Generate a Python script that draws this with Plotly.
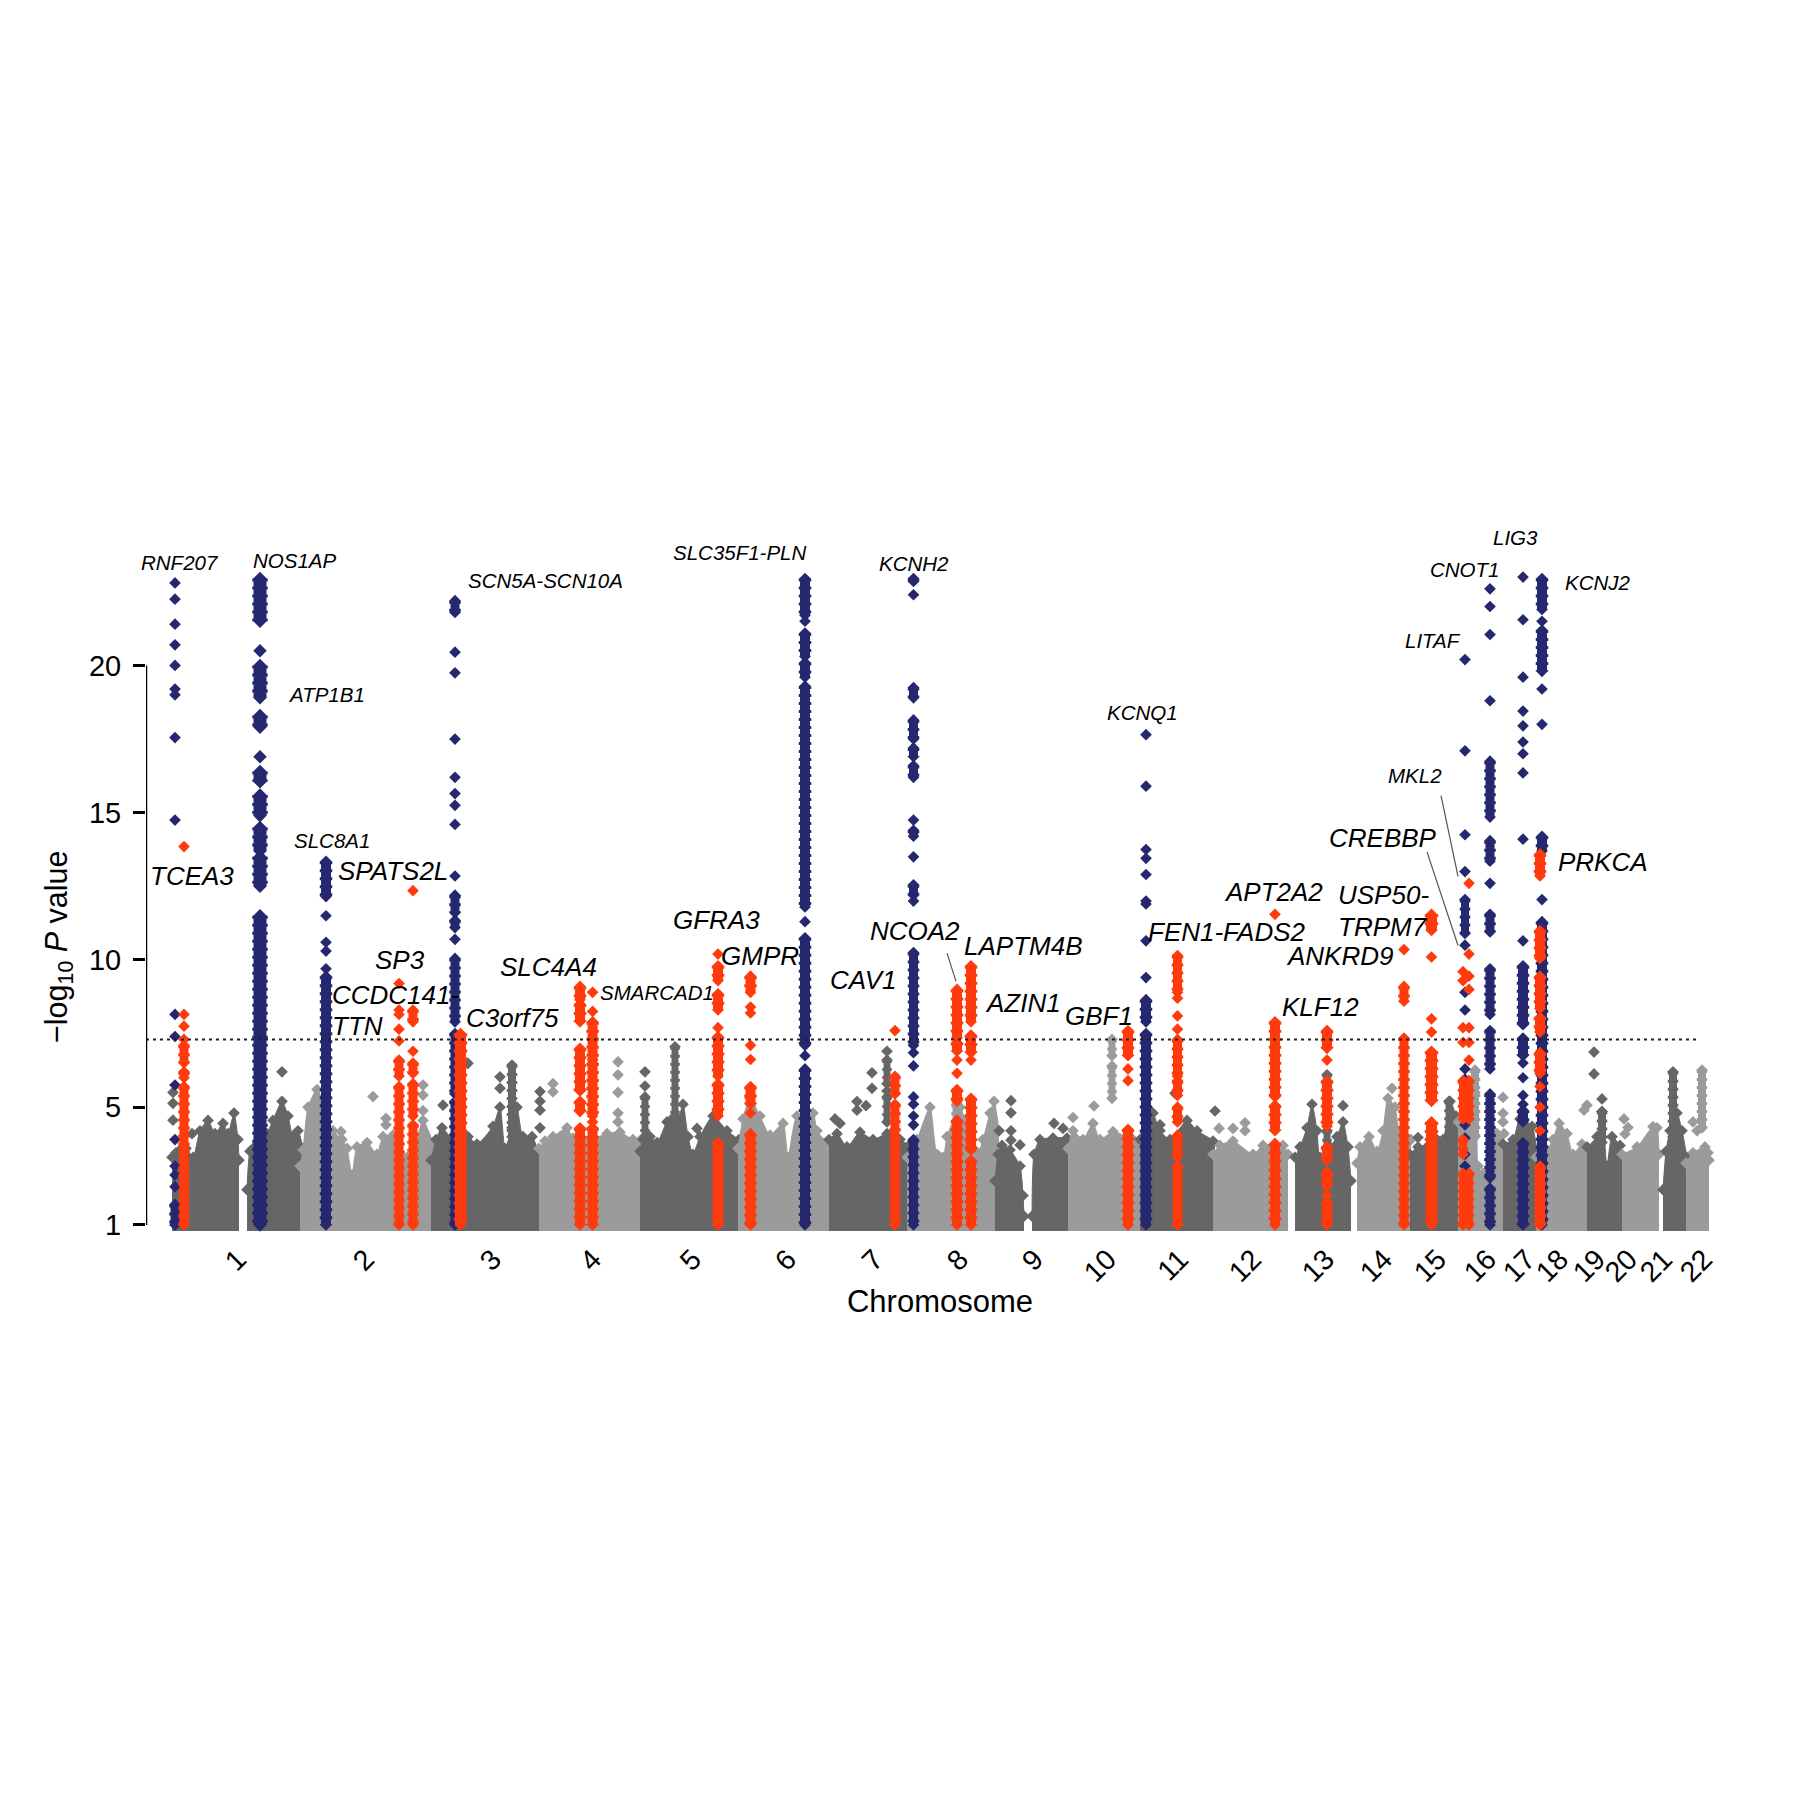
import plotly.graph_objects as go

# ---------- genome background: skyline of each chromosome (position, -log10 P) ----------
chr1a_pos = [172,176,180,186,193,200,208,215,223,228,234,238,239]
chr1a_top = [3.3,3.45,3.55,3.6,3.3,4.2,4.55,4.1,4.45,4.1,4.8,3.9,3.2]
chr1b_pos = [247,250,253,256,262,267,273,282,288,293,298,303]
chr1b_top = [2.2,3.5,3.6,3.6,3.8,4.1,4.55,5.2,4.7,4.0,4.2,3.6]
chr2_pos = [300,303,308,317,323,333,342,347,352,357,367,377,383,393,407,415,423,433]
chr2_top = [3.0,3.55,5.0,5.6,5.2,4.2,3.9,3.6,2.7,3.65,3.8,3.4,4.0,4.05,3.3,3.7,4.55,3.8]
chr3_pos = [431,436,442,453,468,477,493,500,505,512,517,523,532,540]
chr3_top = [3.2,3.9,4.3,3.9,4.0,3.75,4.35,5.0,3.6,4.3,5.0,4.0,4.0,3.3]
chr4_pos = [539,545,553,567,573,590,607,620,633,641]
chr4_top = [3.6,3.85,4.0,4.3,3.95,3.9,4.1,4.15,3.9,3.9]
chr5_pos = [640,643,650,657,667,672,678,683,688,693,700,713,727,739]
chr5_top = [3.5,3.9,4.0,3.8,4.5,4.6,4.6,5.1,4.0,3.4,4.0,4.7,4.2,3.9]
chr6_pos = [738,743,750,760,770,783,788,797,813,817,830]
chr6_top = [3.6,4.6,5.3,4.7,4.05,4.45,3.3,4.7,4.8,4.2,3.7]
chr7_pos = [829,837,847,860,873,887,900,909]
chr7_top = [3.9,4.1,3.65,4.15,3.9,4.1,3.9,3.7]
chr8_pos = [907,917,930,937,943,947,960,965,978,983,990,994,999]
chr8_top = [3.3,3.9,5.0,3.4,3.3,4.0,5.0,4.55,3.45,3.9,4.8,5.2,4.2]
chr9a_pos = [995,998,1002,1010,1020,1023,1024]
chr9a_top = [2.5,3.4,3.7,3.55,3.0,2.0,1.3]
chr9b_pos = [1032,1034,1040,1053,1067,1069]
chr9b_top = [1.3,3.4,3.9,3.95,3.95,3.3]
chr10_pos = [1068,1073,1083,1093,1100,1113,1133,1141]
chr10_top = [3.6,4.2,3.9,4.45,3.9,4.17,3.9,3.9]
chr11_pos = [1140,1147,1153,1160,1170,1187,1197,1213,1215]
chr11_top = [3.9,5.0,4.8,4.2,3.9,4.55,4.2,3.85,3.3]
chr12_pos = [1213,1220,1233,1253,1263,1283,1288]
chr12_top = [3.4,3.7,3.85,3.4,3.7,3.7,3.4]
chr13_pos = [1295,1300,1307,1312,1317,1320,1330,1337,1343,1348,1351]
chr13_top = [3.3,3.65,4.3,5.1,4.2,3.3,3.65,4.0,4.5,3.65,2.5]
chr14_pos = [1357,1360,1369,1377,1383,1388,1395,1400,1411]
chr14_top = [3.1,3.65,4.0,3.5,4.2,5.3,5.0,4.1,3.9]
chr15_pos = [1410,1418,1427,1437,1443,1450,1456,1459]
chr15_top = [3.4,3.65,3.65,3.9,3.9,5.2,4.7,3.5]
chr16_pos = [1458,1466,1475,1478,1483,1490,1497,1504]
chr16_top = [4.5,5.6,5.5,3.0,2.75,3.2,4.1,4.1]
chr17_pos = [1503,1513,1520,1532,1537]
chr17_top = [3.75,3.9,4.6,4.35,3.5]
chr18_pos = [1536,1547,1553,1559,1567,1573,1582,1588]
chr18_top = [3.3,3.55,3.9,4.45,4.1,3.4,3.75,3.4]
chr19_pos = [1587,1597,1602,1607,1612,1620,1623]
chr19_top = [3.65,4.0,4.85,3.0,4.0,3.7,3.3]
chr20_pos = [1622,1637,1653,1657,1659]
chr20_top = [3.4,3.65,4.34,4.3,3.4]
chr21_pos = [1663,1666,1670,1677,1682,1687]
chr21_top = [2.2,3.5,4.2,4.8,4.2,3.3]
chr22_pos = [1686,1693,1705,1708,1709]
chr22_top = [3.1,3.45,3.65,3.45,3.2]

# ---------- isolated background SNPs ----------
dark_pos = [173,173,173,192,282,468,443,500,500,540,540,540,540,645,645,697,872,872,857,857,866,840,835,1011,1011,999,1011,1011,1020,1054,1063,1175,1160,1215,1343,1418,1594,1594,1602,1465]
dark_val = [5.5,5.13,4.56,4.1,6.2,6.49,5.07,6.03,5.64,5.53,5.2,4.9,4.3,6.2,5.72,4.28,6.17,5.64,5.19,4.9,5.05,4.45,4.6,5.22,4.81,4.2,4.2,3.88,3.72,4.45,4.28,5.47,4.4,4.87,5.05,3.97,6.87,6.13,5.28,5.3]
light_pos = [373,423,423,423,386,386,341,553,553,618,618,618,618,618,1073,1094,1219,1233,1245,1245,1392,1503,1503,1503,1587,1584,1624,1628,1625,1693,1697]
light_val = [5.36,5.75,5.41,4.88,4.62,4.4,4.17,5.8,5.52,6.54,6.1,5.5,4.8,4.5,4.65,5.04,4.28,4.28,4.47,4.2,5.64,5.33,4.79,4.5,5.07,4.9,4.6,4.31,4.09,4.5,4.2]

# ---------- loci: position, continuous runs (high, low), separate hits ----------
CHR5_PEAK_POS = 675;  CHR5_PEAK_RUNS = [(7.05,4.0)];  CHR5_PEAK_HITS = []
CHR3_PEAK_POS = 512;  CHR3_PEAK_RUNS = [(6.43,4.0)];  CHR3_PEAK_HITS = []
CHR5B_POS = 645;      CHR5B_RUNS = [(5.35,4.0)];      CHR5B_HITS = []
CHR7_PEAK_POS = 887;  CHR7_PEAK_RUNS = [(6.6,5.8),(5.35,4.5)];  CHR7_PEAK_HITS = [6.9,5.55]
CHR15_PEAK_POS = 1449; CHR15_PEAK_RUNS = [(5.2,4.0)]; CHR15_PEAK_HITS = []
CHR21_PEAK_POS = 1673; CHR21_PEAK_RUNS = [(6.2,4.0)]; CHR21_PEAK_HITS = []
CHR19_PEAK_POS = 1602; CHR19_PEAK_RUNS = [(4.85,3.8)]; CHR19_PEAK_HITS = []
CHR13_GREY_POS = 1327; CHR13_GREY_RUNS = [(6.1,5.6),(4.2,3.6)]; CHR13_GREY_HITS = []

GBF1_GREY_POS = 1112; GBF1_GREY_RUNS = [(7.3,6.75),(6.4,5.3)]; GBF1_GREY_HITS = []
CHR16_PEAK_POS = 1475; CHR16_PEAK_RUNS = [(6.26,4.0)]; CHR16_PEAK_HITS = []
CHR22_PEAK_POS = 1702; CHR22_PEAK_RUNS = [(6.26,4.3)]; CHR22_PEAK_HITS = []
NCOA2_GREY_POS = 957; NCOA2_GREY_RUNS = [(5.1,4.5)]; NCOA2_GREY_HITS = []

RNF207_POS = 175; RNF207_RUNS = [(1.7,1.0)]
RNF207_HITS = [22.8,22.25,21.4,20.7,20.0,19.2,19.0,17.55,14.75,8.15,7.4,5.75,3.9,3.0,2.7,2.3]
NOS1AP_POS = 260; NOS1AP_RUNS = [(22.95,21.5),(20.0,18.9),(18.3,17.9),(16.4,16.05),(15.6,14.9),(14.5,13.7),(13.5,12.5),(11.5,1.0)]
NOS1AP_HITS = [20.5,16.9]
SLC8A1_POS = 326; SLC8A1_RUNS = [(13.35,12.15),(9.45,1.0)]
SLC8A1_HITS = [11.5,10.6,10.3,9.7]
SCN5A_POS = 455; SCN5A_RUNS = [(22.2,21.8),(12.2,11.6),(11.35,11.1),(10.05,7.9),(7.5,5.45),(5.2,1.0)]
SCN5A_HITS = [20.45,19.75,17.5,16.2,15.65,15.25,14.6,12.85,10.7]
PLN_POS = 805; PLN_RUNS = [(22.95,21.7),(21.1,20.3),(20.1,19.6),(19.3,11.8),(10.75,7.1),(6.3,1.0)]
PLN_HITS = [21.5,11.3,6.75]
KCNH2_POS = 913.5; KCNH2_RUNS = [(22.95,22.85),(19.25,18.9),(18.15,17.5),(17.2,16.9),(16.6,16.2),(14.4,14.2),(12.55,12.2),(10.25,7.1),(3.9,1.0)]
KCNH2_HITS = [22.4,14.75,13.5,12.0,6.85,6.4,5.35,5.1,4.7,4.4]
KCNQ1_POS = 1146; KCNQ1_RUNS = [(8.65,7.9),(7.5,1.0)]
KCNQ1_HITS = [17.65,15.9,13.75,13.45,12.9,12.0,11.9,10.65,9.4]
LITAF_POS = 1465; LITAF_RUNS = [(12.05,10.9)]
LITAF_HITS = [20.2,17.1,14.25,13.0,10.5,8.9,8.3,6.3,5.95,4.7,4.4,3.95,3.4,3.0]
CNOT1_POS = 1490; CNOT1_RUNS = [(16.75,14.85),(14.05,13.35),(11.55,10.95),(9.7,8.15),(7.6,6.3),(5.45,2.6),(2.25,1.0)]
CNOT1_HITS = [22.6,22.0,21.05,18.8,12.6]
LIG3_POS = 1523; LIG3_RUNS = [(9.8,7.8),(7.35,6.75),(4.9,4.5),(3.8,1.0)]
LIG3_HITS = [23.0,21.55,19.6,18.45,17.95,17.4,17.0,16.35,14.1,10.65,6.5,6.0,5.4,5.1]
KCNJ2_POS = 1542; KCNJ2_RUNS = [(22.95,21.9),(21.2,19.8),(14.2,13.7),(11.3,1.0)]
KCNJ2_HITS = [21.5,19.2,18.0,12.05]

TCEA3_POS = 184; TCEA3_RUNS = [(7.1,6.5),(6.2,6.0),(5.7,1.0)]
TCEA3_HITS = [13.85,8.15,7.75,7.3]
SP3_POS = 399; SP3_RUNS = [(6.6,6.05),(5.7,1.0)]
SP3_HITS = [9.2,8.3,8.15,7.65,7.25]
SPATS2L_POS = 413; SPATS2L_RUNS = [(8.3,7.9),(6.5,6.15),(5.8,4.7),(4.4,1.0)]
SPATS2L_HITS = [12.35,6.9]
C3ORF75_POS = 460.5; C3ORF75_RUNS = [(7.5,1.0)]; C3ORF75_HITS = []
SLC4A4_POS = 580; SLC4A4_RUNS = [(9.1,8.65),(8.5,7.9),(7.0,5.55),(5.2,4.85),(4.3,1.0)]; SLC4A4_HITS = []
SMARCAD1_POS = 592.6; SMARCAD1_RUNS = [(7.9,6.6),(6.5,4.7),(4.3,1.0)]; SMARCAD1_HITS = [8.9,8.25,4.5]
GFRA3_POS = 718; GFRA3_RUNS = [(9.8,9.3),(8.85,8.3),(7.4,6.05),(5.8,4.7),(3.8,1.0)]; GFRA3_HITS = [10.2,7.7]
GMPR_POS = 750.5; GMPR_RUNS = [(9.45,8.9),(5.7,5.1),(4.1,1.0)]; GMPR_HITS = [8.4,8.2,7.1,6.62,4.8]
CAV1_POS = 895; CAV1_RUNS = [(6.05,5.45),(5.1,1.0)]; CAV1_HITS = [7.6]
NCOA2_POS = 957; NCOA2_RUNS = [(9.0,7.35),(7.2,6.9),(5.6,5.2),(4.56,1.0)]; NCOA2_HITS = [6.6,6.15]
LAPTM4B_POS = 971; LAPTM4B_RUNS = [(9.8,7.9),(7.45,6.85),(5.3,3.55),(3.2,1.0)]; LAPTM4B_HITS = [6.6]
GBF1_POS = 1128; GBF1_RUNS = [(7.6,6.75),(4.25,1.0)]; GBF1_HITS = [6.3,5.9]
FEN1_POS = 1177.5; FEN1_RUNS = [(10.15,8.9),(7.3,6.05),(5.9,5.4),(5.0,4.5),(4.05,3.3),(3.0,1.0)]; FEN1_HITS = [8.7,8.1,7.65]
KLF12_POS = 1275; KLF12_RUNS = [(7.9,5.35),(5.07,4.2),(3.77,3.0),(2.9,1.0)]; KLF12_HITS = [11.55]
CHR13_POS = 1327; CHR13_RUNS = [(7.6,7.0),(5.9,4.35),(3.66,3.2),(2.8,2.3),(1.75,1.0)]; CHR13_HITS = [6.6,2.0]
ANKRD9_POS = 1404; ANKRD9_RUNS = [(9.1,8.6),(7.35,1.0)]; ANKRD9_HITS = [10.35]
TRPM7_POS = 1431.5; TRPM7_RUNS = [(11.55,11.0),(6.9,5.2),(4.5,1.0)]; TRPM7_HITS = [10.1,8.0,7.55]
CREBBP_POS = 1463; CREBBP_RUNS = [(5.9,4.6),(3.9,3.4),(2.75,1.0)]; CREBBP_HITS = [9.6,9.3,7.7,7.2]
MKL2_POS = 1469; MKL2_RUNS = [(5.9,4.6),(2.75,1.0)]; MKL2_HITS = [12.6,10.2,9.45,9.0,7.7,7.2,6.6]
PRKCA_POS = 1540; PRKCA_RUNS = [(13.6,12.85),(11.0,10.05),(9.45,8.35),(8.05,7.55),(6.85,6.15),(3.0,1.0)]; PRKCA_HITS = [5.7,5.0,4.2]

# ---------- axis and label text ----------
chrom_labels = [str(i) for i in range(1, 23)]
chrom_label_pos = [238,366,493,593,693,788,875,960,1035,1108,1180,1253,1326,1384,1438,1488,1527,1560,1597,1629,1664,1704]
y_ticks = [1, 5, 10, 15, 20]
GENOME_WIDE = 7.3
threshold_pos = [146, 1699]
axis_span = [1, 20]

# gene labels: name, centre position, -log10 P position
small_genes = ["RNF207","NOS1AP","ATP1B1","SCN5A-SCN10A","SLC35F1-PLN","KCNH2","KCNQ1","LIG3","CNOT1","LITAF","KCNJ2","MKL2","SLC8A1","SMARCAD1"]
small_pos = [180,294,326,545,740,914,1142,1515,1464,1433,1598,1415,332,657]
small_val = [23.5,23.57,19.0,22.9,23.85,23.46,18.4,24.35,23.26,20.84,22.83,16.25,14.06,8.91]
big_genes = ["TCEA3","SPATS2L","SP3","C3orf75","SLC4A4","GFRA3","GMPR","CAV1","NCOA2","LAPTM4B","AZIN1","GBF1","FEN1-FADS2","APT2A2","USP50-","TRPM7","ANKRD9","KLF12","CREBBP","PRKCA"]
big_pos = [192,393,399.5,512,548,716,760,863,915,1023,1023,1099,1227,1273,1383,1383,1339,1320,1383,1603]
big_val = [12.86,13.02,10.0,8.02,9.77,11.37,10.13,9.31,10.98,10.47,8.53,8.1,10.95,12.3,12.19,11.13,10.13,8.41,14.14,13.33]
ttn_pos = 330
ttn_text = ["CCDC141-", "TTN"]
ttn_val = [8.8, 7.75]

leader_ncoa2_pos = [947, 956];   leader_ncoa2_val = [10.23, 9.27]
leader_mkl2_pos = [1441, 1458];  leader_mkl2_val = [15.58, 12.84]
leader_crebbp_pos = [1427, 1458]; leader_crebbp_val = [13.67, 10.49]

# ---------- styles ----------
DARK, LIGHT, NAVY, RED = "#666666", "#9b9b9b", "#26286f", "#ff3b0e"
FONT = "Liberation Sans"
X_RANGE = [146, 1734]
Y_RANGE = [0.796, 23.24]

skylines = [
    (chr1a_pos,chr1a_top,DARK),(chr1b_pos,chr1b_top,DARK),(chr2_pos,chr2_top,LIGHT),
    (chr3_pos,chr3_top,DARK),(chr4_pos,chr4_top,LIGHT),(chr5_pos,chr5_top,DARK),
    (chr6_pos,chr6_top,LIGHT),(chr7_pos,chr7_top,DARK),(chr8_pos,chr8_top,LIGHT),
    (chr9a_pos,chr9a_top,DARK),(chr9b_pos,chr9b_top,DARK),(chr10_pos,chr10_top,LIGHT),
    (chr11_pos,chr11_top,DARK),(chr12_pos,chr12_top,LIGHT),(chr13_pos,chr13_top,DARK),
    (chr14_pos,chr14_top,LIGHT),(chr15_pos,chr15_top,DARK),(chr16_pos,chr16_top,LIGHT),
    (chr17_pos,chr17_top,DARK),(chr18_pos,chr18_top,LIGHT),(chr19_pos,chr19_top,DARK),
    (chr20_pos,chr20_top,LIGHT),(chr21_pos,chr21_top,DARK),(chr22_pos,chr22_top,LIGHT),
]
loci = [
    (CHR5_PEAK_POS,CHR5_PEAK_RUNS,CHR5_PEAK_HITS,DARK,7),(CHR3_PEAK_POS,CHR3_PEAK_RUNS,CHR3_PEAK_HITS,DARK,8),
    (CHR5B_POS,CHR5B_RUNS,CHR5B_HITS,DARK,7),(CHR7_PEAK_POS,CHR7_PEAK_RUNS,CHR7_PEAK_HITS,DARK,7),
    (CHR15_PEAK_POS,CHR15_PEAK_RUNS,CHR15_PEAK_HITS,DARK,7),(CHR21_PEAK_POS,CHR21_PEAK_RUNS,CHR21_PEAK_HITS,DARK,8),
    (CHR19_PEAK_POS,CHR19_PEAK_RUNS,CHR19_PEAK_HITS,DARK,8),(CHR13_GREY_POS,CHR13_GREY_RUNS,CHR13_GREY_HITS,DARK,7),
    (GBF1_GREY_POS,GBF1_GREY_RUNS,GBF1_GREY_HITS,LIGHT,7),(CHR16_PEAK_POS,CHR16_PEAK_RUNS,CHR16_PEAK_HITS,LIGHT,8),
    (CHR22_PEAK_POS,CHR22_PEAK_RUNS,CHR22_PEAK_HITS,LIGHT,8),(NCOA2_GREY_POS,NCOA2_GREY_RUNS,NCOA2_GREY_HITS,LIGHT,9),
    (RNF207_POS,RNF207_RUNS,RNF207_HITS,NAVY,9),(NOS1AP_POS,NOS1AP_RUNS,NOS1AP_HITS,NAVY,13),
    (SLC8A1_POS,SLC8A1_RUNS,SLC8A1_HITS,NAVY,10),(SCN5A_POS,SCN5A_RUNS,SCN5A_HITS,NAVY,9),
    (PLN_POS,PLN_RUNS,PLN_HITS,NAVY,10),(KCNH2_POS,KCNH2_RUNS,KCNH2_HITS,NAVY,9),
    (KCNQ1_POS,KCNQ1_RUNS,KCNQ1_HITS,NAVY,10),(LITAF_POS,LITAF_RUNS,LITAF_HITS,NAVY,8),
    (CNOT1_POS,CNOT1_RUNS,CNOT1_HITS,NAVY,9),(LIG3_POS,LIG3_RUNS,LIG3_HITS,NAVY,10),
    (KCNJ2_POS,KCNJ2_RUNS,KCNJ2_HITS,NAVY,10),
    (TCEA3_POS,TCEA3_RUNS,TCEA3_HITS,RED,9),(SP3_POS,SP3_RUNS,SP3_HITS,RED,9),
    (SPATS2L_POS,SPATS2L_RUNS,SPATS2L_HITS,RED,9),(C3ORF75_POS,C3ORF75_RUNS,C3ORF75_HITS,RED,11),
    (SLC4A4_POS,SLC4A4_RUNS,SLC4A4_HITS,RED,10),(SMARCAD1_POS,SMARCAD1_RUNS,SMARCAD1_HITS,RED,10),
    (GFRA3_POS,GFRA3_RUNS,GFRA3_HITS,RED,10),(GMPR_POS,GMPR_RUNS,GMPR_HITS,RED,10),
    (CAV1_POS,CAV1_RUNS,CAV1_HITS,RED,9),(NCOA2_POS,NCOA2_RUNS,NCOA2_HITS,RED,10),
    (LAPTM4B_POS,LAPTM4B_RUNS,LAPTM4B_HITS,RED,10),(GBF1_POS,GBF1_RUNS,GBF1_HITS,RED,10),
    (FEN1_POS,FEN1_RUNS,FEN1_HITS,RED,9),(KLF12_POS,KLF12_RUNS,KLF12_HITS,RED,10),
    (CHR13_POS,CHR13_RUNS,CHR13_HITS,RED,10),(ANKRD9_POS,ANKRD9_RUNS,ANKRD9_HITS,RED,9),
    (TRPM7_POS,TRPM7_RUNS,TRPM7_HITS,RED,11),(CREBBP_POS,CREBBP_RUNS,CREBBP_HITS,RED,8),
    (MKL2_POS,MKL2_RUNS,MKL2_HITS,RED,8),(PRKCA_POS,PRKCA_RUNS,PRKCA_HITS,RED,10),
]

fig = go.Figure()
MARK = 9

for pos, top, col in skylines:
    fig.add_trace(go.Scatter(x=pos, y=top, mode="lines+markers", fill="tozeroy", fillcolor=col,
                             line=dict(color=col, width=1, shape="spline", smoothing=0.6),
                             marker=dict(symbol="diamond", size=MARK, color=col),
                             hoverinfo="skip", showlegend=False))
for pos, val, col in [(dark_pos, dark_val, DARK), (light_pos, light_val, LIGHT)]:
    fig.add_trace(go.Scatter(x=pos, y=val, mode="markers", marker=dict(symbol="diamond", size=MARK, color=col),
                             hoverinfo="skip", showlegend=False))
for pos, runs, hits, col, w in loci:
    xs, ys = [], []
    for hi, lo in runs:
        xs += [pos, pos, None]; ys += [hi, lo, None]
    for h in hits:
        xs += [pos, None]; ys += [h, None]
    fig.add_trace(go.Scatter(x=xs, y=ys, mode="lines+markers", cliponaxis=False, connectgaps=False,
                             line=dict(color=col, width=w), marker=dict(symbol="diamond", size=max(MARK, w*0.8), color=col),
                             hoverinfo="skip", showlegend=False))
    # toothed edge of a tight stack of diamonds
    fig.add_trace(go.Scatter(x=xs, y=ys, mode="lines", cliponaxis=False, connectgaps=False,
                             line=dict(color=col, width=w + 2.5, dash="3px,5px"),
                             hoverinfo="skip", showlegend=False))
for px_, py_ in [(leader_ncoa2_pos, leader_ncoa2_val), (leader_mkl2_pos, leader_mkl2_val), (leader_crebbp_pos, leader_crebbp_val)]:
    fig.add_trace(go.Scatter(x=px_, y=py_, mode="lines", line=dict(color="#555555", width=1.2),
                             hoverinfo="skip", showlegend=False))
fig.add_trace(go.Scatter(x=threshold_pos, y=[GENOME_WIDE]*2, mode="lines", cliponaxis=False,
                         line=dict(color="#222222", width=2, dash="3px,4px"), hoverinfo="skip", showlegend=False))
fig.add_trace(go.Scatter(x=[146, 146], y=axis_span, mode="lines", cliponaxis=False,
                         line=dict(color="black", width=2.5), hoverinfo="skip", showlegend=False))

def px(x):
    return (x - X_RANGE[0]) / (X_RANGE[1] - X_RANGE[0])
def py(v):
    return (v - Y_RANGE[0]) / (Y_RANGE[1] - Y_RANGE[0])

ann = []
def label(text, x, v, size, xanchor="center", **kw):
    ann.append(dict(x=px(x), y=py(v), xref="paper", yref="paper", text=text, showarrow=False,
                    xanchor=xanchor, yanchor="middle",
                    font=dict(size=size, family=FONT, color="black"), **kw))
for t, x, v in zip(small_genes, small_pos, small_val):
    label(f"<i>{t}</i>", x, v, 20.5)
for t, x, v in zip(big_genes, big_pos, big_val):
    label(f"<i>{t}</i>", x, v, 26)
for t, v in zip(ttn_text, ttn_val):
    label(f"<i>{t}</i>", ttn_pos, v, 26, xanchor="left")
label("\u2212log<sub>10</sub> <i>P</i> value", 59, 10.44, 30.5, textangle=-90)

fig.update_layout(
    width=1800, height=1800, paper_bgcolor="white", plot_bgcolor="white", showlegend=False,
    margin=dict(l=138, r=74, t=562, b=577, autoexpand=False),
    font=dict(family=FONT, color="black"),
    annotations=ann,
    xaxis=dict(range=X_RANGE, showgrid=False, zeroline=False, showline=False, ticks="",
               tickmode="array", tickvals=chrom_label_pos, ticktext=chrom_labels, tickangle=-45,
               tickfont=dict(size=28.5, family=FONT), ticklabelstandoff=5,
               title=dict(text="Chromosome", font=dict(size=31, family=FONT), standoff=3)),
    yaxis=dict(range=Y_RANGE, showgrid=False, zeroline=False, showline=False, ticks="outside",
               ticklen=12, tickwidth=2.5, tickcolor="black", tickmode="array", tickvals=y_ticks,
               ticktext=[str(v) for v in y_ticks], tickfont=dict(size=29, family=FONT), ticklabelstandoff=6),
)
fig.write_html("out.html")
